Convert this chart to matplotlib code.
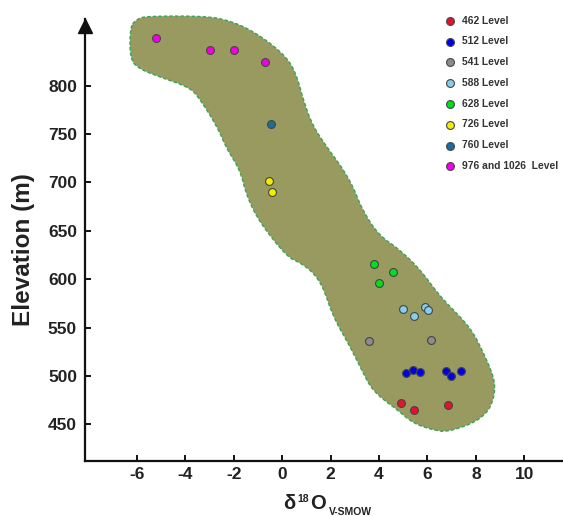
import matplotlib
matplotlib.use("Agg")
import matplotlib.pyplot as plt
from matplotlib.patches import Polygon
import numpy as np

plt.rcParams['font.family'] = ['Liberation Sans', 'DejaVu Sans']
plt.rcParams['font.weight'] = 'bold'

# ---- data (delta18O, elevation) ----
lvl462_x = [4.90, 5.45, 6.86]
lvl462_y = [472, 465, 470]
lvl512_x = [5.10, 5.41, 5.70, 6.78, 6.97, 7.40]
lvl512_y = [503, 506, 504, 505, 500, 505]
lvl541_x = [3.58, 6.14]
lvl541_y = [536, 537]
lvl588_x = [5.01, 5.44, 5.91, 6.02]
lvl588_y = [569, 562, 571, 568]
lvl628_x = [3.80, 4.56, 4.01]
lvl628_y = [616, 607, 596]
lvl726_x = [-0.54, -0.43]
lvl726_y = [701, 690]
lvl760_x = [-0.45]
lvl760_y = [760]
lvl976_x = [-5.22, -2.96, -1.97, -0.69]
lvl976_y = [849, 837, 837, 825]

labels = ["462 Level", "512 Level", "541 Level", "588 Level",
          "628 Level", "726 Level", "760 Level", "976 and 1026  Level"]
colors = ["#e8102e", "#0000e6", "#8c8c8c", "#86cdee",
          "#00e020", "#f2ee00", "#1a6e9a", "#f000e6"]

# envelope outline (delta18O, elevation)
env_x = [-6.28, -5.99, -5.58, -3.10, -2.15, -1.32, -0.37, 0.33, 0.66, 0.87,
         1.24, 1.78, 2.40, 2.89, 3.31, 3.97, 4.88, 5.70, 6.53, 7.36,
         7.89, 8.31, 8.68, 8.80, 8.72, 8.47, 7.89, 6.82, 6.24, 5.41,
         4.75, 4.05, 3.64, 3.35, 2.81, 2.11, 1.69, 1.28, 0.74, 0.21,
         -0.91, -1.45, -1.74, -2.27, -2.69, -3.39, -3.80, -5.04, -5.87, -6.28]
env_y = [861, 869, 872, 872, 867, 858, 842, 825, 806, 786,
         760, 739, 718, 698, 672, 646, 630, 610, 582, 561,
         545, 524, 503, 489, 475, 462, 451, 442, 444, 451,
         465, 478, 489, 503, 530, 561, 592, 607, 617, 623,
         658, 685, 713, 734, 758, 786, 798, 809, 817, 827]

xticks = [-6, -4, -2, 0, 2, 4, 6, 8, 10]
yticks = [450, 500, 550, 600, 650, 700, 750, 800]


def chaikin(pts, n=2):
    # corner-cutting to round the hand-drawn outline
    for _ in range(n):
        a = pts
        b = np.roll(pts, -1, axis=0)
        q = 0.75 * a + 0.25 * b
        r = 0.25 * a + 0.75 * b
        pts = np.empty((2 * len(a), 2))
        pts[0::2] = q
        pts[1::2] = r
    return pts


W, H = 563, 516
fig = plt.figure(figsize=(W / 100, H / 100), dpi=100)
ax = fig.add_axes([84.5 / W, 55.3 / H, (W - 84.5) / W, (460.7 - 19) / H])
ax.set_xlim(-8.16, 11.6)
ax.set_ylim(412.3, 869)

outline = chaikin(np.column_stack([env_x, env_y]).astype(float), 2)
env = Polygon(outline, closed=True,
              facecolor="#999a5f", edgecolor="#3aa35a", lw=1.0,
              linestyle=(0, (2.5, 1.5)), clip_on=False, zorder=1)
ax.add_patch(env)

series = [(lvl462_x, lvl462_y), (lvl512_x, lvl512_y), (lvl541_x, lvl541_y),
          (lvl588_x, lvl588_y), (lvl628_x, lvl628_y), (lvl726_x, lvl726_y),
          (lvl760_x, lvl760_y), (lvl976_x, lvl976_y)]
handles = []
for (xs, ys), c, lab in zip(series, colors, labels):
    h = ax.scatter(xs, ys, s=32, c=c, edgecolors="#444444", linewidths=0.8,
                   zorder=3, label=lab)
    handles.append(h)

for s in ["top", "right"]:
    ax.spines[s].set_visible(False)
for s in ["left", "bottom"]:
    ax.spines[s].set_linewidth(1.6)
    ax.spines[s].set_color("#111111")

ax.set_xticks(xticks)
ax.set_yticks(yticks)
ax.set_xticklabels([str(t) for t in xticks])
ax.set_yticklabels([str(t) for t in yticks])
ax.tick_params(axis="both", direction="in", length=4.5, width=1.4,
               colors="#111111", labelcolor="#222222", labelsize=12.5)
ax.tick_params(axis="y", pad=5.4)
ax.tick_params(axis="x", pad=4.5)
for lab in ax.get_xticklabels() + ax.get_yticklabels():
    lab.set_fontweight("bold")

# arrow head on y axis
ax.plot([ax.get_xlim()[0]], [862], marker="^", markersize=10.6,
        color="#111111", clip_on=False, zorder=5)

leg = ax.legend(handles=handles, loc="upper left",
                bbox_to_anchor=(445 / W, 1 - 15.5 / H),
                bbox_transform=fig.transFigure, frameon=False,
                fontsize=7.4, borderpad=0, handlelength=1.0,
                handletextpad=0.7, labelspacing=1.05, scatterpoints=1,
                borderaxespad=0)
for t in leg.get_texts():
    t.set_color("#333333")
    t.set_fontweight("bold")

# axis labels
fig.text(23.5 / W, 1 - 250 / H, "Elevation (m)", rotation=90, ha="center",
         va="center", fontsize=17.5, fontweight="bold", color="#222222")
base = 7.0 / H
fig.text(283 / W, base, "δ", fontsize=14.5, fontweight="bold",
         color="#222222", va="baseline", ha="left")
fig.text(297 / W, 14.3 / H, "18", fontsize=7.5, fontweight="bold",
         color="#222222", va="baseline", ha="left")
fig.text(310 / W, base, "O", fontsize=14.5, fontweight="bold",
         color="#222222", va="baseline", ha="left")
fig.text(329 / W, 1.3 / H, "V-SMOW", fontsize=7.5, fontweight="bold",
         color="#222222", va="baseline", ha="left")

fig.savefig("out.png", dpi=100)
